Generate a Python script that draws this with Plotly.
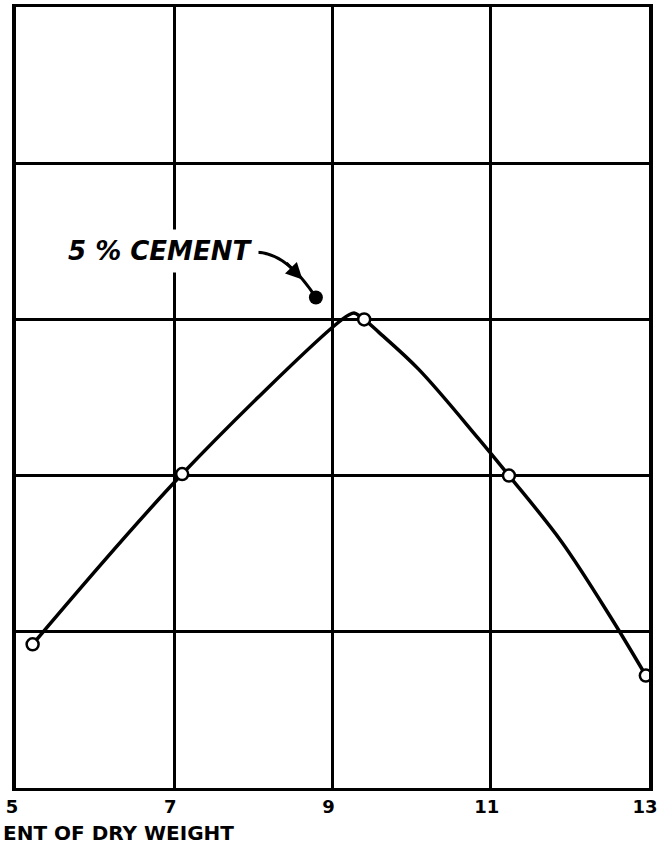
import plotly.graph_objects as go

# moisture content (percent of dry weight) vs. grid units
moisture = [5.21, 7.10, 9.40, 11.23, 12.96]
density = [0.92, 2.01, 3.00, 2.00, 0.72]

# hand-drawn curve, points
curve_x = [5.21, 7.10, 9.00, 9.21, 9.28, 9.40, 9.58, 10.09, 10.84, 11.23, 11.89, 12.52, 12.96]
curve_y = [0.92, 2.01, 2.95, 3.03, 3.04, 3.00, 2.92, 2.68, 2.24, 2.00, 1.58, 1.09, 0.72]

# 5% cement point
cement_x = [8.79]
cement_y = [3.14]

x_ticks = [5, 7, 9, 11, 13]

font = "DejaVu Sans"

fig = go.Figure()

fig.add_trace(go.Scatter(x=curve_x, y=curve_y, mode="lines",
                         line=dict(color="black", width=3.5, shape="spline", smoothing=1.0),
                         hoverinfo="skip"))
fig.add_trace(go.Scatter(x=moisture, y=density, mode="markers",
                         marker=dict(symbol="circle", size=12, color="white",
                                     line=dict(color="black", width=2.5))))
fig.add_trace(go.Scatter(x=cement_x, y=cement_y, mode="markers",
                         marker=dict(symbol="circle", size=14, color="black")))

# label, with white box so the grid line breaks behind it
fig.add_annotation(x=6.82, y=3.44, text="<b><i>5 % CEMENT</i></b>", showarrow=False,
                   bgcolor="white", borderpad=6,
                   font=dict(family=font, size=26, color="black"))

# curved leader line from the label to the point
fig.add_shape(type="path", xref="x", yref="y",
              path="M 8.03,3.43 Q 8.42,3.43 8.79,3.14",
              line=dict(color="black", width=3))
fig.add_annotation(x=8.62, y=3.255, ax=8.40, ay=3.37, axref="x", ayref="y",
                   text="", showarrow=True, arrowhead=2, arrowsize=1.1,
                   arrowwidth=3, arrowcolor="black")

fig.add_annotation(xref="paper", yref="paper", x=-0.024, y=-0.058,
                   xanchor="left", yanchor="middle", showarrow=False,
                   text="<b>ENT OF DRY WEIGHT</b>",
                   font=dict(family=font, size=20, color="black"))

fig.update_xaxes(range=[5, 13], tickvals=x_ticks,
                 ticktext=["<b>%d</b>" % t for t in x_ticks],
                 ticklabeloverflow="allow", ticklabelshift=-4,
                 showgrid=True, gridcolor="black", gridwidth=2.5,
                 showline=True, linecolor="black", linewidth=3, mirror=True,
                 zeroline=False, ticks="", ticklen=0,
                 tickfont=dict(family=font, size=18, color="black"))
fig.update_yaxes(range=[0, 5], dtick=1, showticklabels=False,
                 showgrid=True, gridcolor="black", gridwidth=2.5,
                 showline=True, linecolor="black", linewidth=3.5, mirror=True,
                 zeroline=False, ticks="")

fig.update_layout(width=662, height=847, showlegend=False,
                  plot_bgcolor="white", paper_bgcolor="white",
                  margin=dict(l=16, r=8, t=4, b=59))

# page body has an 8px default margin; drop it so the figure sits at 0,0
fig.write_html("out.html", config={"displayModeBar": False},
               post_script="document.body.style.margin='0';")
